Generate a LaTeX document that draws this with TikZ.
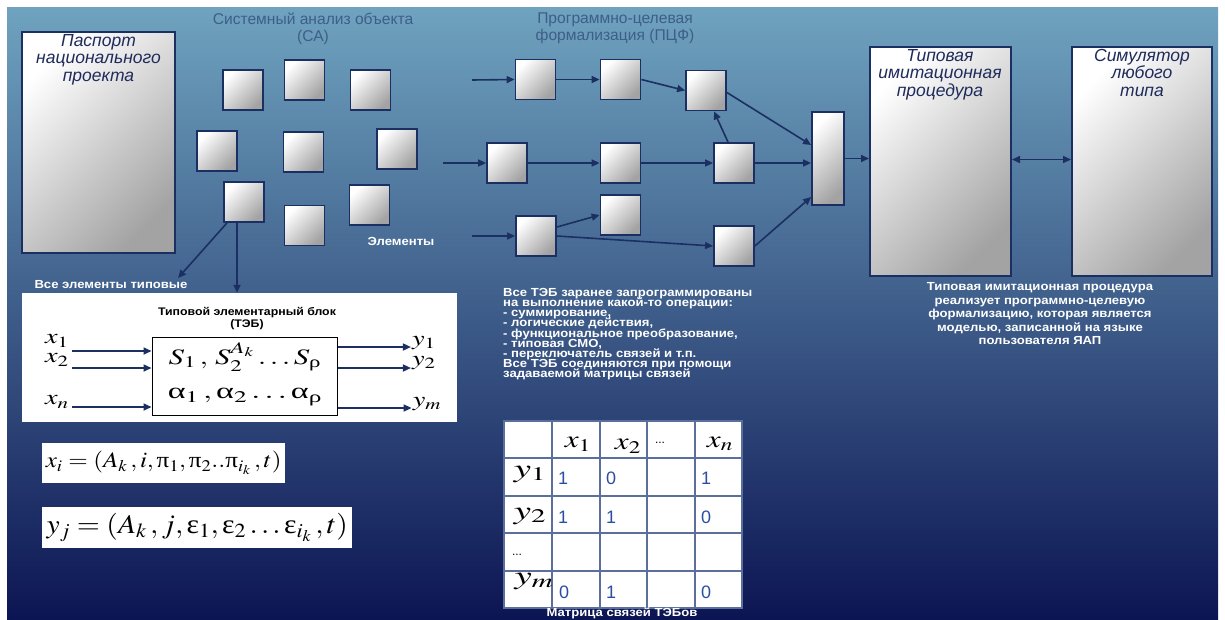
\documentclass[tikz,border=0pt]{standalone}
\usepackage{amsmath}
\usepackage{mathptmx}
\usepackage{graphicx}
\usepackage[no-math]{fontspec}
\setmainfont{Liberation Sans}
\newfontfamily\notefont[FakeStretch=1.12]{Liberation Sans}
\newfontfamily\greekup{Liberation Serif}
\usetikzlibrary{arrows.meta}

\definecolor{deepnavy}{HTML}{1B2F63}
\definecolor{boxink}{HTML}{1F2B5B}
\definecolor{headgray}{HTML}{3F5E87}
\definecolor{bgtop}{HTML}{6FA3BF}
\definecolor{bgmid}{HTML}{3F69A3}
\definecolor{bgbot}{HTML}{0C1553}
\definecolor{cellblue}{HTML}{2A4FA0}
\definecolor{gridrule}{HTML}{5A6F9C}

% upright greek as in the slide
\newcommand{\gralpha}{\text{\greekup α}}
\newcommand{\grrho}{\text{\greekup ρ}}
\newcommand{\grpi}{\text{\greekup π}}
\newcommand{\greps}{\text{\greekup ε}}
\newcommand{\widen}[2]{\scalebox{#1}[1]{#2}}
\newcommand{\tightlines}{\lineskiplimit=-20pt\relax}

\tikzset{
	tile/.style={rectangle, draw=deepnavy, line width=1.8pt, top color=white, bottom color=black!36, shading angle=45, minimum width=40pt, minimum height=40pt, inner sep=0pt},
	bigbox/.style={tile, line width=2pt},
	link/.style={draw=deepnavy, line width=1.6pt, -{Triangle[length=8pt,width=7pt]}},
	twoway/.style={link, {Triangle[length=8pt,width=7pt]}-{Triangle[length=8pt,width=7pt]}},
	heading/.style={text=headgray, align=center, font=\fontsize{15.6}{17}\selectfont},
	boxtitle/.style={text=boxink, align=center, anchor=north, inner sep=0pt, font=\fontsize{17.5}{17.5}\selectfont\itshape},
	note/.style={text=white, inner sep=0pt, font=\notefont\fontsize{11.7}{13.5}\selectfont\bfseries},
	panel/.style={fill=white, inner sep=0pt},
	formula/.style={inner sep=1pt, font=\fontsize{22}{24}\selectfont},
	port/.style={inner sep=0pt, font=\fontsize{21}{23}\selectfont},
	cell/.style={text=cellblue, inner sep=0pt, anchor=west, font=\fontsize{18}{20}\selectfont},
	gridline/.style={draw=gridrule, line width=1.3pt}
}

\begin{document}
\begin{tikzpicture}[x=1pt, y=-1pt]
	\useasboundingbox (0,0) rectangle (1225,619);
	\shade[top color=bgtop, middle color=bgmid, bottom color=bgbot] (7,7) rectangle (1218,619);

	% headings
	\node[heading] (satitle) at (313,28.5) {Системный анализ объекта\\(СА)};
	\node[heading] (pcftitle) at (615,28.5) {Программно-целевая\\формализация (ПЦФ)};

	% passport
	\node[bigbox, minimum width=153pt, minimum height=221pt] (passport) at (98.5,142.5) {};
	\node[boxtitle] (passporttxt) at (98.5,34) {Паспорт\\национального\\проекта};

	% system analysis: elements
	\node[tile] (el1) at (243,90) {};
	\node[tile] (el2) at (304.5,80) {};
	\node[tile] (el3) at (370.5,90) {};
	\node[tile] (el4) at (217,151) {};
	\node[tile] (el5) at (303.5,152) {};
	\node[tile] (el6) at (397,149) {};
	\node[tile] (el7) at (244,202) {};
	\node[tile] (el8) at (304.5,225.5) {};
	\node[tile] (el9) at (369.5,205) {};
	\node[note] (eltxt) at (401,241) {Элементы};
	\node[note] (typtxt) at (111,285) {Все элементы типовые};
	\coordinate (typtip) at (178,278);
	\draw[link] ([xshift=-17pt]el7.south) -- (typtip);

	% typical elementary block
	\node[panel, minimum width=435pt, minimum height=129pt] (tebpanel) at (239.5,357.5) {};
	\draw[link] ([xshift=-7pt]el7.south) -- ([xshift=-7pt]el7.south |- tebpanel.north);
	\node[align=center, font=\notefont\fontsize{11}{12}\selectfont\bfseries] (tebtitle) at (247,319) {Типовой элементарный блок\\(ТЭБ)};
	\node[draw=black, line width=1pt, minimum width=185pt, minimum height=78pt] (teb) at (244.5,376) {};
	\node[formula] (tebs) at (245,357) {\widen{1.4}{$S_1\,,\,S_2^{A_k}\ldots S_{\grrho}$}};
	\node[formula] (teba) at (245,397) {\widen{1.55}{$\gralpha_1\,,\gralpha_2\ldots\gralpha_{\grrho}$}};
	\node[port] (inx1) at (57,341) {\widen{1.35}{$x_1$}};
	\node[port] (inx2) at (57,360) {\widen{1.35}{$x_2$}};
	\node[port] (inxn) at (57,402) {\widen{1.35}{$x_n$}};
	\node[port] (outy1) at (424,343) {\widen{1.35}{$y_1$}};
	\node[port] (outy2) at (424,363) {\widen{1.35}{$y_2$}};
	\node[port] (outym) at (427,404) {\widen{1.35}{$y_m$}};
	\draw[link] ([xshift=3pt, yshift=-10pt]inx1.east) -- ([yshift=-10pt]inx1.east -| teb.west);
	\draw[link] ([xshift=3pt, yshift=-8pt]inx2.east) -- ([yshift=-8pt]inx2.east -| teb.west);
	\draw[link] ([xshift=3pt, yshift=-5pt]inxn.east) -- ([yshift=-5pt]inxn.east -| teb.west);
	\draw[link] ([yshift=-4pt]outy1.west -| teb.east) -- ([xshift=-1pt, yshift=-4pt]outy1.west);
	\draw[link] ([yshift=-5pt]outy2.west -| teb.east) -- ([xshift=-1pt, yshift=-5pt]outy2.west);
	\draw[link] ([yshift=-4pt]outym.west -| teb.east) -- ([xshift=-1pt, yshift=-4pt]outym.west);

	% tuples
	\node[panel, anchor=west, minimum width=243pt, minimum height=40pt, formula] (xform) at (42,463) {\widen{1.14}{$x_i = (A_k\,, i, \grpi_1, \grpi_2 .. \grpi_{i_k}\,, t)$}};
	\node[panel, anchor=west, minimum width=310pt, minimum height=41pt, formula, font=\fontsize{27}{29}\selectfont] (yform) at (42,527.5) {\widen{1.1}{$y_j = (A_k\,, j, \greps_1, \greps_2 \ldots \greps_{i_k}\,, t)$}};

	% program-target formalization
	\node[tile] (r1a) at (535.5,79.5) {};
	\node[tile] (r1b) at (620.5,79.5) {};
	\node[tile] (r1c) at (706,90.5) {};
	\node[tile] (r2a) at (507,163) {};
	\node[tile] (r2b) at (620.5,163) {};
	\node[tile] (r2c) at (734,163) {};
	\node[tile] (r3a) at (536,236) {};
	\node[tile] (r3b) at (620.5,215) {};
	\node[tile] (r3c) at (734,246) {};
	\node[tile, minimum width=32pt, minimum height=93pt] (merge) at (828,158.5) {};
	\coordinate (in1) at (472,80);
	\coordinate (in2) at (443,163);
	\coordinate (in3) at (472,236);
	\draw[link] (in1) -- (r1a.west);
	\draw[link] (r1a) -- (r1b);
	\draw[link] (r1b.east) -- (r1c.west);
	\draw[link] (in2) -- (r2a.west);
	\draw[link] (r2a) -- (r2b);
	\draw[link] (r2b) -- (r2c);
	\draw[link] ([xshift=-6pt]r2c.north) -- ([xshift=8pt]r1c.south);
	\draw[link] (in3) -- (r3a.west);
	\draw[link] ([yshift=9pt]r3a.east) -- (r3b.west);
	\draw[link] (r3a.east) -- (r3c.west);
	\draw[link] ([yshift=-2pt]r1c.east) -- ([yshift=13.5pt]merge.west);
	\draw[link] (r2c.east) -- ([yshift=-4.5pt]merge.west);
	\draw[link] (r3c.east) -- ([yshift=-38.5pt]merge.west);

	% typical simulation procedure and simulator
	\node[bigbox, minimum width=141pt, minimum height=229pt] (proc) at (940.5,161.5) {};
	\node[boxtitle] (proctxt) at (940,49) {Типовая\\имитационная\\процедура};
	\node[bigbox, minimum width=140pt, minimum height=229pt] (sim) at (1142,161.5) {};
	\node[boxtitle] (simtxt) at (1142,49) {Симулятор\\любого\\типа};
	\draw[link] (merge.east) -- (merge.east -| proc.west);
	\draw[twoway] ([yshift=2pt]proc.east) -- ([yshift=2pt]sim.west);
	\node[note, align=center] (procnote) at (1040,314) {Типовая имитационная процедура\\реализует программно-целевую\\формализацию, которая является\\моделью, записанной на языке\\пользователя ЯАП};

	% notes on TEB
	\node[note, align=left, anchor=north west, font=\notefont\fontsize{11.7}{10.2}\selectfont\bfseries\tightlines] (tebnote) at (503,288) {Все ТЭБ заранее запрограммированы\\на выполнение какой-то операции:\\- суммирование,\\- логические действия,\\- функциональное преобразование,\\- типовая СМО,\\- переключатель связей и т.п.\\Все ТЭБ соединяются при помощи\\задаваемой матрицы связей};

	% link matrix
	\node[panel, minimum width=238pt, minimum height=187pt] (matbg) at (623,514.5) {};
	\draw[gridline] (504,421) rectangle (742,608);
	\draw[gridline] (552,421) -- (552,608);
	\draw[gridline] (600,421) -- (600,608);
	\draw[gridline] (647,421) -- (647,608);
	\draw[gridline] (695,421) -- (695,608);
	\draw[gridline] (504,458) -- (742,458);
	\draw[gridline] (504,496) -- (742,496);
	\draw[gridline] (504,533) -- (742,533);
	\draw[gridline] (504,571) -- (742,571);
	\node[formula, font=\fontsize{24}{26}\selectfont] (hx1) at (578,444) {\widen{1.3}{$x_1$}};
	\node[formula, font=\fontsize{24}{26}\selectfont] (hx2) at (628,446) {\widen{1.3}{$x_2$}};
	\node[inner sep=0pt, font=\fontsize{12}{12}\selectfont] (hdots) at (660,443) {...};
	\node[formula, font=\fontsize{24}{26}\selectfont] (hxn) at (720,444) {\widen{1.3}{$x_n$}};
	\node[formula, font=\fontsize{26}{28}\selectfont] (ry1) at (530,474) {\widen{1.5}{$y_1$}};
	\node[formula, font=\fontsize{26}{28}\selectfont] (ry2) at (530,516) {\widen{1.5}{$y_2$}};
	\node[inner sep=0pt, font=\fontsize{12}{12}\selectfont] (rdots) at (517,555) {...};
	\node[formula, font=\fontsize{26}{28}\selectfont] (rym) at (534,581) {\widen{1.5}{$y_m$}};
	\node[cell] (c11) at (558,478) {1};
	\node[cell] (c12) at (606,478) {0};
	\node[cell] (c14) at (701,478) {1};
	\node[cell] (c21) at (558,517) {1};
	\node[cell] (c22) at (606,517) {1};
	\node[cell] (c24) at (701,517) {0};
	\node[cell] (cm1) at (559,592) {0};
	\node[cell] (cm2) at (606,592) {1};
	\node[cell] (cm4) at (701,592) {0};
	\node[note] (matcap) at (622,613) {Матрица связей ТЭБов};
\end{tikzpicture}
\end{document}
